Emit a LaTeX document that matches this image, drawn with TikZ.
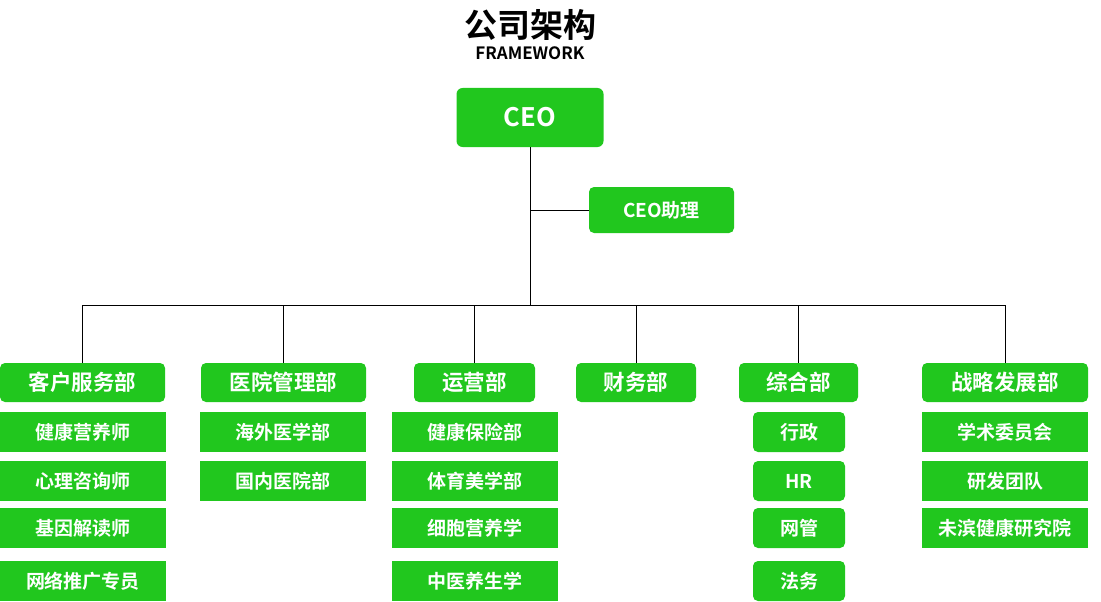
\documentclass[tikz,border=0pt]{standalone}
\usepackage{fontspec}
\setmainfont{Noto Sans CJK SC}[BoldFont={* Bold}]
\usepackage{xcolor}
\usepackage{tikz}
\usetikzlibrary{positioning}
\definecolor{orggreen}{RGB}{33,199,30}

\begin{document}
\begin{tikzpicture}[x=1pt,y=-1pt,
    box/.style={fill=orggreen,text=white,font=\bfseries\fontsize{19}{21}\selectfont,
      inner sep=0pt,minimum height=40pt,minimum width=166pt},
    rbox/.style={box,rounded corners=5pt},
    dept/.style={rbox,minimum height=39pt,font=\bfseries\fontsize{21.5}{23}\selectfont},
    link/.style={black,line width=1pt}]
  \useasboundingbox (0,0) rectangle (1101,602);
  % title
  \node (title) at (530,25) {\bfseries\fontsize{33}{35}\selectfont 公司架构};
  \node (sub) at (530,53) {\bfseries\fontsize{17}{19}\selectfont FRAMEWORK};
  % top
  \node[rbox,rounded corners=6pt,minimum width=147pt,minimum height=59pt,
    font=\bfseries\fontsize{25.5}{27}\selectfont] (ceo) at (530,117.5) {CEO};
  \node[rbox,minimum width=145pt,minimum height=46pt,
    font=\bfseries\fontsize{19}{21}\selectfont] (assist) at (661.5,210) {CEO助理};
  \coordinate (bus) at (530,305);
  % departments
  \node[dept,minimum width=165pt] (kefu) at (82.5,382.5) {客户服务部};
  \node[dept,minimum width=165pt] (yiyuan) at (283.5,382.5) {医院管理部};
  \node[dept,minimum width=121pt] (yunying) at (474.5,382.5) {运营部};
  \node[dept,minimum width=120pt] (caiwu) at (636,382.5) {财务部};
  \node[dept,minimum width=119pt] (zonghe) at (798.5,382.5) {综合部};
  \node[dept,minimum width=166pt] (zhanlue) at (1005,382.5) {战略发展部};
  % customer service
  \node[box] (kf1) at (83,432) {健康营养师};
  \node[box] (kf2) at (83,481) {心理咨询师};
  \node[box] (kf3) at (83,528) {基因解读师};
  \node[box] (kf4) at (83,581) {网络推广专员};
  % hospital
  \node[box] (yy1) at (283,432) {海外医学部};
  \node[box] (yy2) at (283,481) {国内医院部};
  % operations
  \node[box] (yun1) at (475,432) {健康保险部};
  \node[box] (yun2) at (475,481) {体育美学部};
  \node[box] (yun3) at (475,528) {细胞营养学};
  \node[box] (yun4) at (475,581) {中医养生学};
  % general
  \node[rbox,minimum width=92pt] (zh1) at (799,432) {行政};
  \node[rbox,minimum width=92pt] (zh2) at (799,481) {HR};
  \node[rbox,minimum width=92pt] (zh3) at (799,528) {网管};
  \node[rbox,minimum width=92pt] (zh4) at (799,581) {法务};
  % strategy
  \node[box] (zl1) at (1005,432) {学术委员会};
  \node[box] (zl2) at (1005,481) {研发团队};
  \node[box] (zl3) at (1005,528) {未滨健康研究院};
  % links
  \draw[link] (ceo.south) -- (bus);
  \draw[link] (assist.west) -- (assist.west -| ceo.south);
  \draw[link] (kefu.north) |- (bus);
  \draw[link] (zhanlue.north) |- (bus);
  \draw[link] (yiyuan.north) -- (yiyuan.north |- bus);
  \draw[link] (yunying.north) -- (yunying.north |- bus);
  \draw[link] (caiwu.north) -- (caiwu.north |- bus);
  \draw[link] (zonghe.north) -- (zonghe.north |- bus);
\end{tikzpicture}
\end{document}
